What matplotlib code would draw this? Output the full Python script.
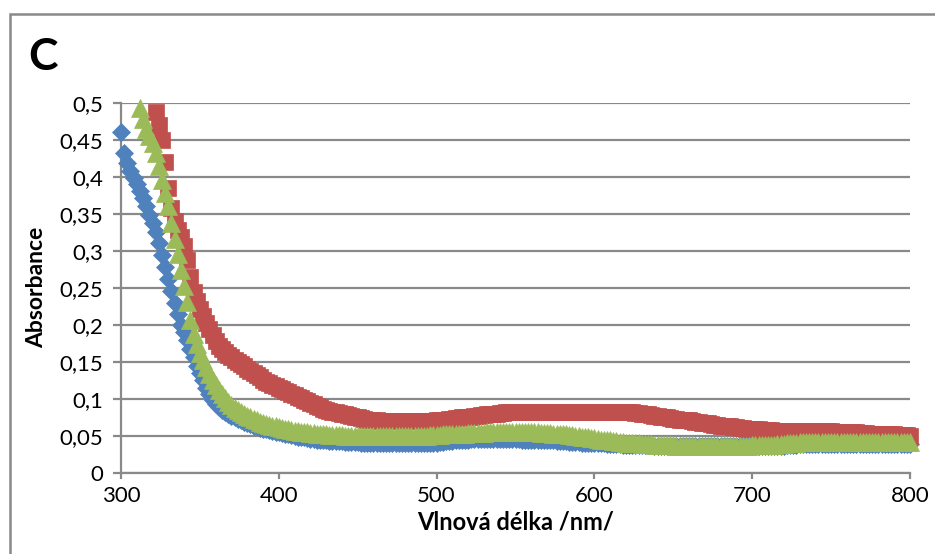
import numpy as np
import matplotlib
matplotlib.use("Agg")
import matplotlib.pyplot as plt
from matplotlib.patches import Rectangle

# absorbance spectra, 2 nm step
wl_blue = np.arange(300, 802, 2)
abs_blue = [
    0.460, 0.432, 0.418, 0.408, 0.398, 0.390, 0.381, 0.371, 0.360, 0.349,
    0.338, 0.325, 0.310, 0.295, 0.278, 0.262, 0.246, 0.230, 0.215, 0.200,
    0.190, 0.179, 0.168, 0.156, 0.145, 0.135, 0.125, 0.115, 0.106, 0.099,
    0.093, 0.089, 0.085, 0.082, 0.079, 0.077, 0.075, 0.073, 0.071, 0.069,
    0.067, 0.066, 0.064, 0.063, 0.061, 0.060, 0.059, 0.058, 0.057, 0.056,
    0.055, 0.054, 0.053, 0.052, 0.051, 0.050, 0.049, 0.048, 0.048, 0.047,
    0.046, 0.046, 0.045, 0.045, 0.044, 0.044, 0.043, 0.043, 0.043, 0.043,
    0.043, 0.042, 0.042, 0.042, 0.042, 0.042, 0.041, 0.041, 0.041, 0.041,
    0.041, 0.041, 0.041, 0.041, 0.041, 0.041, 0.041, 0.041, 0.041, 0.041,
    0.041, 0.041, 0.041, 0.041, 0.041, 0.041, 0.041, 0.041, 0.041, 0.041,
    0.041, 0.042, 0.042, 0.043, 0.043, 0.043, 0.044, 0.044, 0.045, 0.045,
    0.045, 0.046, 0.046, 0.046, 0.046, 0.046, 0.046, 0.046, 0.046, 0.046,
    0.046, 0.046, 0.046, 0.046, 0.046, 0.046, 0.046, 0.045, 0.045, 0.045,
    0.045, 0.045, 0.045, 0.044, 0.044, 0.044, 0.044, 0.044, 0.043, 0.043,
    0.043, 0.043, 0.042, 0.042, 0.042, 0.042, 0.041, 0.041, 0.041, 0.041,
    0.040, 0.040, 0.040, 0.040, 0.039, 0.039, 0.039, 0.039, 0.039, 0.038,
    0.038, 0.038, 0.038, 0.038, 0.038, 0.038, 0.038, 0.038, 0.038, 0.037,
    0.037, 0.037, 0.037, 0.037, 0.037, 0.037, 0.037, 0.037, 0.036, 0.036,
    0.036, 0.036, 0.036, 0.036, 0.036, 0.036, 0.036, 0.036, 0.036, 0.036,
    0.036, 0.036, 0.036, 0.036, 0.036, 0.036, 0.036, 0.036, 0.036, 0.036,
    0.036, 0.036, 0.036, 0.036, 0.036, 0.036, 0.036, 0.036, 0.037, 0.037,
    0.037, 0.038, 0.038, 0.038, 0.038, 0.039, 0.039, 0.039, 0.039, 0.039,
    0.039, 0.039, 0.039, 0.039, 0.039, 0.039, 0.039, 0.039, 0.039, 0.039,
    0.039, 0.039, 0.039, 0.039, 0.039, 0.039, 0.039, 0.039, 0.039, 0.039,
    0.039, 0.039, 0.039, 0.039, 0.039, 0.039, 0.039, 0.039, 0.039, 0.039,
    0.039,
]

wl_red = np.arange(322, 802, 2)
abs_red = [
    0.488, 0.470, 0.450, 0.420, 0.385, 0.358, 0.340, 0.328,
    0.318, 0.306, 0.288, 0.265, 0.245, 0.232, 0.222, 0.212, 0.203, 0.194,
    0.186, 0.178, 0.172, 0.167, 0.163, 0.159, 0.156, 0.153, 0.150, 0.147,
    0.144, 0.141, 0.138, 0.135, 0.132, 0.129, 0.126, 0.123, 0.121, 0.119,
    0.117, 0.115, 0.113, 0.111, 0.109, 0.107, 0.105, 0.103, 0.101, 0.099,
    0.097, 0.095, 0.093, 0.091, 0.089, 0.087, 0.085, 0.084, 0.083, 0.082,
    0.081, 0.080, 0.079, 0.078, 0.077, 0.076, 0.075, 0.074, 0.073, 0.072,
    0.072, 0.071, 0.071, 0.070, 0.070, 0.070, 0.070, 0.070, 0.070, 0.070,
    0.070, 0.070, 0.070, 0.070, 0.070, 0.070, 0.070, 0.070, 0.070, 0.070,
    0.070, 0.071, 0.071, 0.072, 0.072, 0.073, 0.073, 0.074, 0.074, 0.075,
    0.075, 0.076, 0.076, 0.077, 0.077, 0.078, 0.078, 0.079, 0.079, 0.080,
    0.080, 0.081, 0.081, 0.082, 0.082, 0.082, 0.082, 0.083, 0.083, 0.083,
    0.083, 0.083, 0.083, 0.083, 0.083, 0.083, 0.083, 0.083, 0.083, 0.083,
    0.083, 0.083, 0.083, 0.083, 0.083, 0.083, 0.083, 0.083, 0.083, 0.083,
    0.083, 0.083, 0.083, 0.083, 0.083, 0.083, 0.083, 0.083, 0.083, 0.083,
    0.083, 0.082, 0.082, 0.082, 0.081, 0.081, 0.080, 0.079, 0.079, 0.078,
    0.077, 0.077, 0.076, 0.075, 0.075, 0.074, 0.073, 0.073, 0.072, 0.072,
    0.071, 0.071, 0.070, 0.069, 0.069, 0.068, 0.067, 0.067, 0.066, 0.065,
    0.065, 0.064, 0.064, 0.063, 0.063, 0.062, 0.062, 0.061, 0.061, 0.060,
    0.060, 0.060, 0.059, 0.059, 0.058, 0.058, 0.058, 0.058, 0.057, 0.057,
    0.057, 0.057, 0.057, 0.057, 0.057, 0.057, 0.057, 0.057, 0.057, 0.057,
    0.057, 0.057, 0.057, 0.057, 0.057, 0.057, 0.057, 0.056, 0.056, 0.055,
    0.055, 0.055, 0.055, 0.055, 0.055, 0.054, 0.054, 0.054, 0.053, 0.053,
    0.053, 0.053, 0.052, 0.052, 0.052, 0.052, 0.052, 0.051, 0.051, 0.051,
    0.051, 0.050,
]

wl_green = np.arange(312, 802, 2)
abs_green = [
    0.493, 0.478, 0.464, 0.455, 0.446, 0.432, 0.415, 0.396,
    0.378, 0.360, 0.338, 0.316, 0.296, 0.274, 0.252, 0.231, 0.207, 0.188,
    0.174, 0.162, 0.153, 0.143, 0.134, 0.126, 0.119, 0.112, 0.106, 0.101,
    0.096, 0.092, 0.088, 0.085, 0.082, 0.079, 0.077, 0.075, 0.073, 0.071,
    0.069, 0.068, 0.066, 0.065, 0.064, 0.063, 0.062, 0.061, 0.060, 0.059,
    0.058, 0.057, 0.057, 0.056, 0.055, 0.055, 0.054, 0.054, 0.053, 0.053,
    0.052, 0.052, 0.051, 0.051, 0.051, 0.051, 0.051, 0.050, 0.050, 0.050,
    0.050, 0.050, 0.050, 0.050, 0.050, 0.050, 0.050, 0.050, 0.050, 0.050,
    0.050, 0.050, 0.050, 0.050, 0.050, 0.050, 0.050, 0.050, 0.050, 0.050,
    0.050, 0.050, 0.050, 0.050, 0.051, 0.051, 0.051, 0.051, 0.052, 0.052,
    0.052, 0.052, 0.053, 0.053, 0.053, 0.053, 0.054, 0.054, 0.054, 0.054,
    0.054, 0.054, 0.055, 0.055, 0.055, 0.055, 0.055, 0.055, 0.055, 0.055,
    0.055, 0.055, 0.055, 0.055, 0.055, 0.055, 0.055, 0.055, 0.055, 0.054,
    0.054, 0.054, 0.054, 0.053, 0.053, 0.053, 0.052, 0.052, 0.051, 0.051,
    0.050, 0.050, 0.049, 0.049, 0.048, 0.047, 0.047, 0.046, 0.045, 0.045,
    0.044, 0.044, 0.043, 0.043, 0.042, 0.042, 0.041, 0.041, 0.040, 0.040,
    0.040, 0.039, 0.039, 0.039, 0.039, 0.038, 0.038, 0.038, 0.038, 0.038,
    0.038, 0.038, 0.037, 0.037, 0.037, 0.037, 0.037, 0.037, 0.037, 0.037,
    0.037, 0.037, 0.037, 0.037, 0.037, 0.037, 0.037, 0.037, 0.037, 0.037,
    0.037, 0.037, 0.037, 0.037, 0.037, 0.037, 0.038, 0.038, 0.038, 0.038,
    0.038, 0.038, 0.038, 0.038, 0.039, 0.039, 0.039, 0.040, 0.040, 0.041,
    0.041, 0.042, 0.042, 0.042, 0.042, 0.042, 0.042, 0.042, 0.042, 0.042,
    0.042, 0.042, 0.042, 0.042, 0.042, 0.042, 0.042, 0.042, 0.042, 0.042,
    0.042, 0.042, 0.042, 0.042, 0.042, 0.042, 0.042, 0.042, 0.042, 0.042,
    0.042, 0.042, 0.042, 0.042, 0.042, 0.042, 0.042,
]

x_ticks = [300, 400, 500, 600, 700, 800]
y_ticks = [0, 0.05, 0.1, 0.15, 0.2, 0.25, 0.3, 0.35, 0.4, 0.45, 0.5]
y_tick_labels = ["0", "0,05", "0,1", "0,15", "0,2", "0,25", "0,3", "0,35", "0,4", "0,45", "0,5"]

plt.rcParams["font.family"] = ["Lato", "DejaVu Sans"]
gray = "#898989"

W, H = 935, 554
fig = plt.figure(figsize=(W / 100, H / 100), dpi=100)
ax = fig.add_axes([121 / W, 1 - 473 / H, (910 - 121) / W, (473 - 102.7) / H])

ax.plot(wl_blue, abs_blue, ls="none", marker="D", ms=9.5, color="#4F81BD",
        mec="#4F81BD", mew=0.5, clip_on=False, zorder=3)
ax.plot(wl_red, abs_red, ls="none", marker="s", ms=11.5, color="#C0504D",
        mec="#C0504D", mew=0.5, clip_on=False, zorder=3)
ax.plot(wl_green, abs_green, ls="none", marker="^", ms=13.5, color="#9BBB59",
        mec="#9BBB59", mew=0.5, clip_on=False, zorder=3)

ax.set_xlim(300, 800)
ax.set_ylim(0, 0.5)
ax.set_xticks(x_ticks)
ax.set_yticks(y_ticks)
ax.set_yticklabels(y_tick_labels)

ax.set_axisbelow(True)
ax.yaxis.grid(True, color=gray, lw=1.6)
for side in ("top", "right"):
    ax.spines[side].set_visible(False)
for side in ("left", "bottom"):
    ax.spines[side].set_color(gray)
    ax.spines[side].set_linewidth(1.6)

ax.tick_params(axis="y", direction="out", length=6, width=1.6, color=gray,
               labelsize=16, labelcolor="black", pad=7)
ax.tick_params(axis="x", direction="out", length=4.5, width=1.6, color=gray,
               labelsize=16, labelcolor="black", pad=5)

ax.set_xlabel("Vlnová délka /nm/", fontsize=17, fontweight="bold", labelpad=3)
ax.set_ylabel("Absorbance", fontsize=16.5, fontweight="bold", labelpad=9)

fig.text(28 / W, 1 - 37 / H, "C", fontsize=32, fontweight="bold", va="top", ha="left")

# outer frame, running off the right and bottom edges
fig.patches.append(Rectangle((9.5 / W, -0.2), 1.2, 1.2 - 14.5 / H,
                             transform=fig.transFigure, fill=False,
                             edgecolor=gray, lw=1.8))

fig.savefig("out.png", dpi=100)
